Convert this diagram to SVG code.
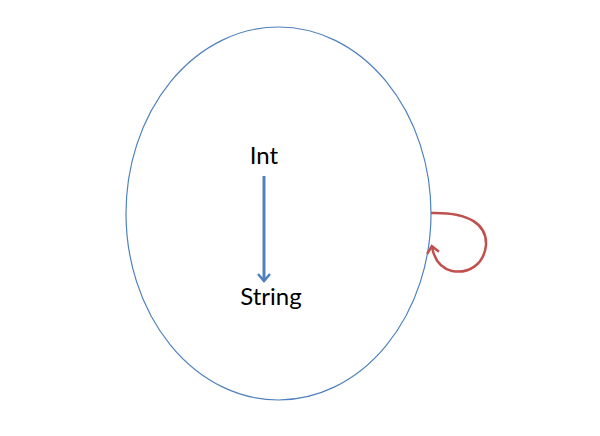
<svg xmlns="http://www.w3.org/2000/svg" width="600" height="436" viewBox="0 0 600 436">
<style>
.lbl{font-family:Lato,"Liberation Sans",sans-serif;font-size:24px;fill:#000;text-anchor:middle}
</style>
<defs>
<marker id="ab" markerWidth="14" markerHeight="16" refX="7" refY="8" orient="auto" markerUnits="userSpaceOnUse"><path d="M1,2 L8,8 L1,14" fill="none" stroke="#4f81bd" stroke-width="2.5"/></marker>
<marker id="ar" markerWidth="14" markerHeight="16" refX="7" refY="8" orient="auto" markerUnits="userSpaceOnUse"><path d="M1,2 L8,8 L1,14" fill="none" stroke="#c0504d" stroke-width="2.5"/></marker>
</defs>
<rect width="600" height="436" fill="#fff"/>
<g id="set"><ellipse cx="278.5" cy="213.5" rx="152.5" ry="186.5" fill="none" stroke="#4f81bd" stroke-width="1.2"/></g>
<g id="int"><text class="lbl" x="264" y="164">Int</text></g>
<g id="string"><text class="lbl" x="271" y="305">String</text></g>
<g id="connectors">
<path d="M264,176 L264,280" stroke="#4f81bd" stroke-width="3" fill="none" marker-end="url(#ab)"/>
<path d="M431,213 C470,212 487,225 486,245 C484,265 468,274 452,271 C440,268 434,258 432,247" stroke="#c0504d" stroke-width="2.5" fill="none" marker-end="url(#ar)"/>
</g>
</svg>
